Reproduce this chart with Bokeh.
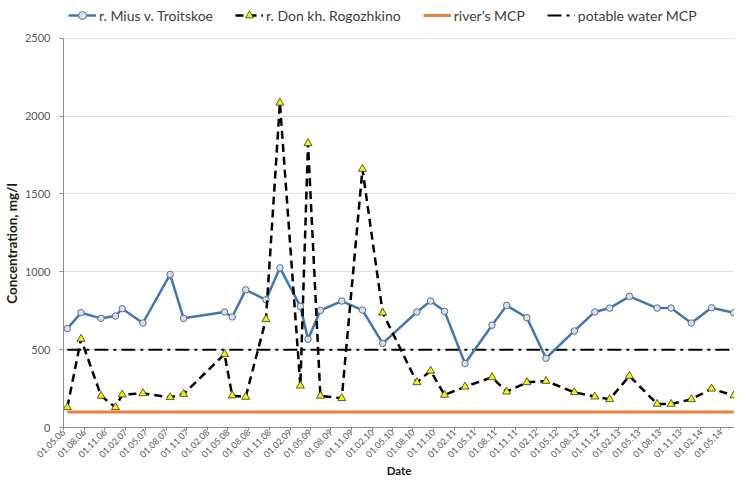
from datetime import datetime
from bokeh.plotting import figure
from bokeh.models import (Range1d, FixedTicker, DatetimeTickFormatter, Legend, LegendItem)
from bokeh.embed import file_html
from bokeh.resources import INLINE

# ---- data ----
sample_dates = [
    "2006-05-18", "2006-07-18", "2006-10-15", "2006-12-18", "2007-01-17", "2007-04-19",
    "2007-08-18", "2007-10-17", "2008-04-16", "2008-05-20", "2008-07-19", "2008-10-17",
    "2008-12-18", "2009-03-19", "2009-04-22", "2009-06-16", "2009-09-19", "2009-12-20",
    "2010-03-20", "2010-08-19", "2010-10-19", "2010-12-20", "2011-03-21", "2011-07-19",
    "2011-09-22", "2011-12-21", "2012-03-15", "2012-07-19", "2012-10-18", "2012-12-23",
    "2013-03-21", "2013-07-22", "2013-09-22", "2013-12-21", "2014-03-21", "2014-06-28",
]
mius = [635, 737, 701, 716, 763, 671, 983, 701, 742, 710, 884, 820,
        1025, 778, 567, 752, 812, 754, 540, 742, 812, 746, 411, 657,
        784, 705, 445, 620, 742, 767, 842, 767, 767, 671, 769, 737]
don = [130, 569, 203, 130, 211, 219, 194, 215, 471, 205, 196, 695,
       2085, 268, 1825, 203, 188, 1660, 737, 290, 364, 209, 262, 322,
       230, 290, 298, 226, 198, 181, 331, 151, 151, 181, 249, 205]
river_mcp = 100
potable_mcp = 500

tick_labels = ["01.05.06", "01.08.06", "01.11.06", "01.02.07", "01.05.07", "01.08.07",
               "01.11.07", "01.02.08", "01.05.08", "01.08.08", "01.11.08", "01.02.09",
               "01.05.09", "01.08.09", "01.11.09", "01.02.10", "01.05.10", "01.08.10",
               "01.11.10", "01.02.11", "01.05.11", "01.08.11", "01.11.11", "01.02.12",
               "01.05.12", "01.08.12", "01.11.12", "01.02.13", "01.05.13", "01.08.13",
               "01.11.13", "01.02.14", "01.05.14"]
y_ticks = [0, 500, 1000, 1500, 2000, 2500]

x = [datetime.strptime(d, "%Y-%m-%d") for d in sample_dates]
tick_dt = [datetime.strptime(t, "%d.%m.%y") for t in tick_labels]
tick_ms = [(t - datetime(1970, 1, 1)).total_seconds() * 1000 for t in tick_dt]

FONT = "Lato"
x_start = tick_dt[0]
x_end = datetime(2014, 7, 1)
y_top = y_ticks[-1]
y_view_top = y_top * 419 / 382   # head room above the axis for the legend

p = figure(width=734, height=479, x_axis_type="datetime", output_backend="svg",
           toolbar_location=None, title=None,
           x_range=Range1d(x_start, x_end),
           y_range=Range1d(0, y_view_top),
           min_border_left=58, min_border_right=0, min_border_top=0, min_border_bottom=51)
p.outline_line_color = None
p.background_fill_color = "white"
p.border_fill_color = "white"

# axes
p.xaxis.ticker = FixedTicker(ticks=tick_ms)
fmt = "%d.%m.%y"
p.xaxis.formatter = DatetimeTickFormatter(
    milliseconds=fmt, seconds=fmt, minsec=fmt, minutes=fmt, hourmin=fmt, hours=fmt,
    days=fmt, months=fmt, years=fmt)
p.xaxis.major_label_orientation = 0.785398
p.xaxis.axis_label = "Date"
# trailing no-break spaces move the label's visible text down to the 0-2500 span
p.yaxis.axis_label = "Concentration, mg/l" + "\u00a0" * 18
p.yaxis.ticker = FixedTicker(ticks=y_ticks)
p.yaxis.bounds = (0, y_top)
for ax in (p.xaxis, p.yaxis):
    ax.axis_line_color = "#8c8c8c"
    ax.major_tick_line_color = "#8c8c8c"
    ax.major_tick_in = 0
    ax.minor_tick_line_color = None
    ax.major_label_text_font = FONT
    ax.major_label_text_color = "#595959"
    ax.axis_label_text_font = FONT
    ax.axis_label_text_font_style = "bold"
    ax.axis_label_text_color = "#1a1a1a"
p.xaxis.major_tick_out = 3
p.yaxis.major_tick_out = 4
p.xaxis.major_label_text_font_size = "9px"
p.yaxis.major_label_text_font_size = "11px"
p.xaxis.major_label_standoff = 0
p.xaxis.axis_label_standoff = 0
p.xaxis.axis_label_text_font_size = "11.5px"
p.yaxis.axis_label_text_font_size = "13.5px"
p.yaxis.major_label_standoff = 9
p.yaxis.axis_label_standoff = 2
p.xgrid.grid_line_color = None
p.ygrid.grid_line_color = "#dbe2e8"
p.ygrid.grid_line_width = 1

# series
r_mcp = p.line(x, [river_mcp] * len(x), line_color="#e5823f", line_width=3)
r_pot = p.line(x, [potable_mcp] * len(x), line_color="black", line_width=2,
               line_dash="14 5 3 5")
r_mius_l = p.line(x, mius, line_color="#3f78b0", line_width=2.5)
r_mius_m = p.scatter(x, mius, marker="circle", size=6.5, fill_color="#d9e0ea",
                     line_color="#5d6f85", line_width=1)
r_don_l = p.line(x, don, line_color="black", line_width=2.5, line_dash="8 5")
r_don_m = p.scatter(x, don, marker="triangle", size=8, fill_color="#f2f20a",
                    line_color="#3a3a10", line_width=0.8)

legend = Legend(items=[
    LegendItem(label="r. Mius v. Troitskoe", renderers=[r_mius_l, r_mius_m]),
    LegendItem(label="r. Don kh. Rogozhkino", renderers=[r_don_l, r_don_m]),
    LegendItem(label="river's MCP", renderers=[r_mcp]),
    LegendItem(label="potable water MCP", renderers=[r_pot]),
], orientation="horizontal", location="top_left")
legend.label_text_font = FONT
legend.label_text_font_size = "14px"
legend.label_text_color = "#404040"
legend.border_line_color = None
legend.background_fill_alpha = 0
legend.glyph_width = 28
legend.label_standoff = 3
legend.spacing = 22
legend.padding = 0
legend.margin = 5
p.add_layout(legend, "center")

open("out.html", "w").write(file_html(p, INLINE))
